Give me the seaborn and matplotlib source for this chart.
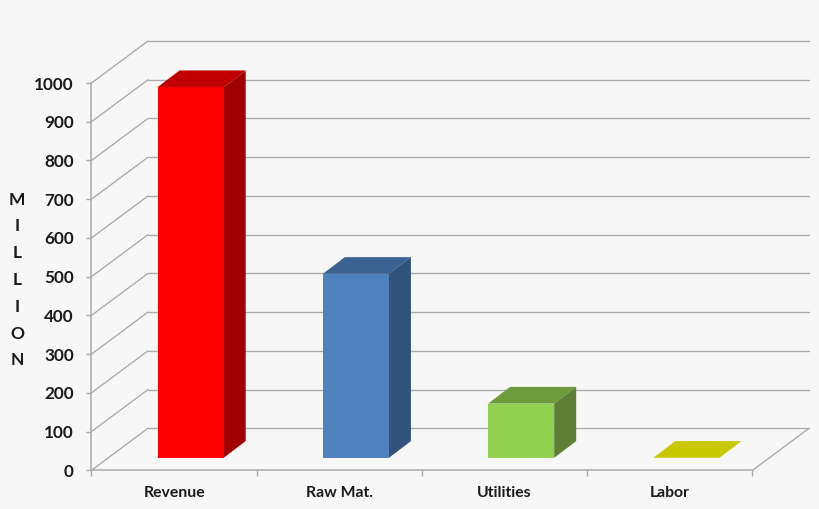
import matplotlib
matplotlib.use("Agg")
import matplotlib.pyplot as plt
from matplotlib.patches import Polygon
from matplotlib.ticker import FixedLocator
import seaborn as sns
import pandas as pd

categories = ["Revenue", "Raw Mat.", "Utilities", "Labor"]
values = [957, 475, 140, 0]
front_colors = ["#FF0000", "#4F81BD", "#92D050", "#C8C800"]
top_colors = ["#C00000", "#3B6291", "#6C9C3C", "#C8C800"]
side_colors = ["#A00000", "#31527C", "#5E8034", "#A0A000"]
y_ticks = list(range(0, 1001, 100))
y_title = "M\nI\nL\nL\nI\nO\nN"

BG = "#F7F7F7"
GRID = "#A9A9A9"
TXT = "#1A1A1A"

sns.set_theme(style="white")
plt.rcParams["font.family"] = ["Lato", "DejaVu Sans"]

W, H = 820, 509
fig = plt.figure(figsize=(W / 100, H / 100), dpi=100, facecolor=BG)
L, R, T, B = 91.5, 752.5, 83, 470.3
ax = fig.add_axes([L / W, 1 - B / H, (R - L) / W, (B - T) / H])
ax.patch.set_alpha(0)

df = pd.DataFrame({"cat": categories, "val": values})
sns.barplot(data=df, x="cat", y="val", hue="cat", palette=front_colors, legend=False,
            width=0.4, saturation=1, ax=ax, zorder=4)
ax.set_xlim(-0.5, 3.5)
ax.set_ylim(0, 1000)

px_x = 4 / (R - L)      # data units per pixel, x
px_y = 1000 / (B - T)   # data units per pixel, y
wall_dx, wall_dy = 56.5 * px_x, 42 * px_y
bar_dx, bar_dy = 16.5 * px_x, 12.5 * px_y
deep_dx, deep_dy = 22 * px_x, 16.7 * px_y

# walls and floor
for v in y_ticks:
    ax.plot([-0.5, -0.5 + wall_dx], [v, v + wall_dy], color=GRID, lw=0.95, clip_on=False, zorder=1)
    ax.plot([-0.5 + wall_dx, 3.5 + wall_dx], [v + wall_dy, v + wall_dy], color=GRID, lw=0.95,
            clip_on=False, zorder=1)
ax.plot([3.5, 3.5 + wall_dx], [0, wall_dy], color=GRID, lw=0.95, clip_on=False, zorder=1)

# 3D bars
for i, p in enumerate(ax.patches):
    x0 = p.get_x() + bar_dx
    w = p.get_width()
    y0 = bar_dy
    h = p.get_height()
    p.set_x(x0)
    p.set_y(y0)
    p.set_clip_on(False)
    p.set_linewidth(0)
    ax.add_patch(Polygon([(x0, y0 + h), (x0 + w, y0 + h), (x0 + w + deep_dx, y0 + h + deep_dy),
                          (x0 + deep_dx, y0 + h + deep_dy)], closed=True, fc=top_colors[i],
                         lw=0, clip_on=False, zorder=3))
    ax.add_patch(Polygon([(x0 + w, y0), (x0 + w + deep_dx, y0 + deep_dy),
                          (x0 + w + deep_dx, y0 + h + deep_dy), (x0 + w, y0 + h)], closed=True,
                         fc=side_colors[i], lw=0, clip_on=False, zorder=3))

for s in ["top", "right"]:
    ax.spines[s].set_visible(False)
for s in ["left", "bottom"]:
    ax.spines[s].set_color(GRID)
    ax.spines[s].set_linewidth(1.1)

ax.set_yticks(y_ticks)
ax.set_xticks(range(len(categories)))
ax.set_xticklabels(categories, fontsize=11.3, fontweight="bold", color=TXT)
ax.xaxis.set_minor_locator(FixedLocator([-0.5, 0.5, 1.5, 2.5, 3.5]))
ax.tick_params(axis="x", which="major", length=0, pad=11.5)
ax.tick_params(axis="x", which="minor", bottom=True, length=4, width=1, color=GRID)
ax.tick_params(axis="y", left=True, length=3.8, width=1, color=GRID, pad=9,
               labelsize=12.3, labelcolor=TXT)
for t in ax.get_yticklabels():
    t.set_fontweight("bold")

ax.set_xlabel("")
ax.set_ylabel(y_title, rotation=0, fontsize=12.5, fontweight="bold", color=TXT,
              linespacing=1.83, ha="center", va="center")
ax.yaxis.set_label_coords((17 - L) / (R - L), (B - 280) / (B - T))

fig.savefig("out.png", dpi=100, facecolor=BG)
